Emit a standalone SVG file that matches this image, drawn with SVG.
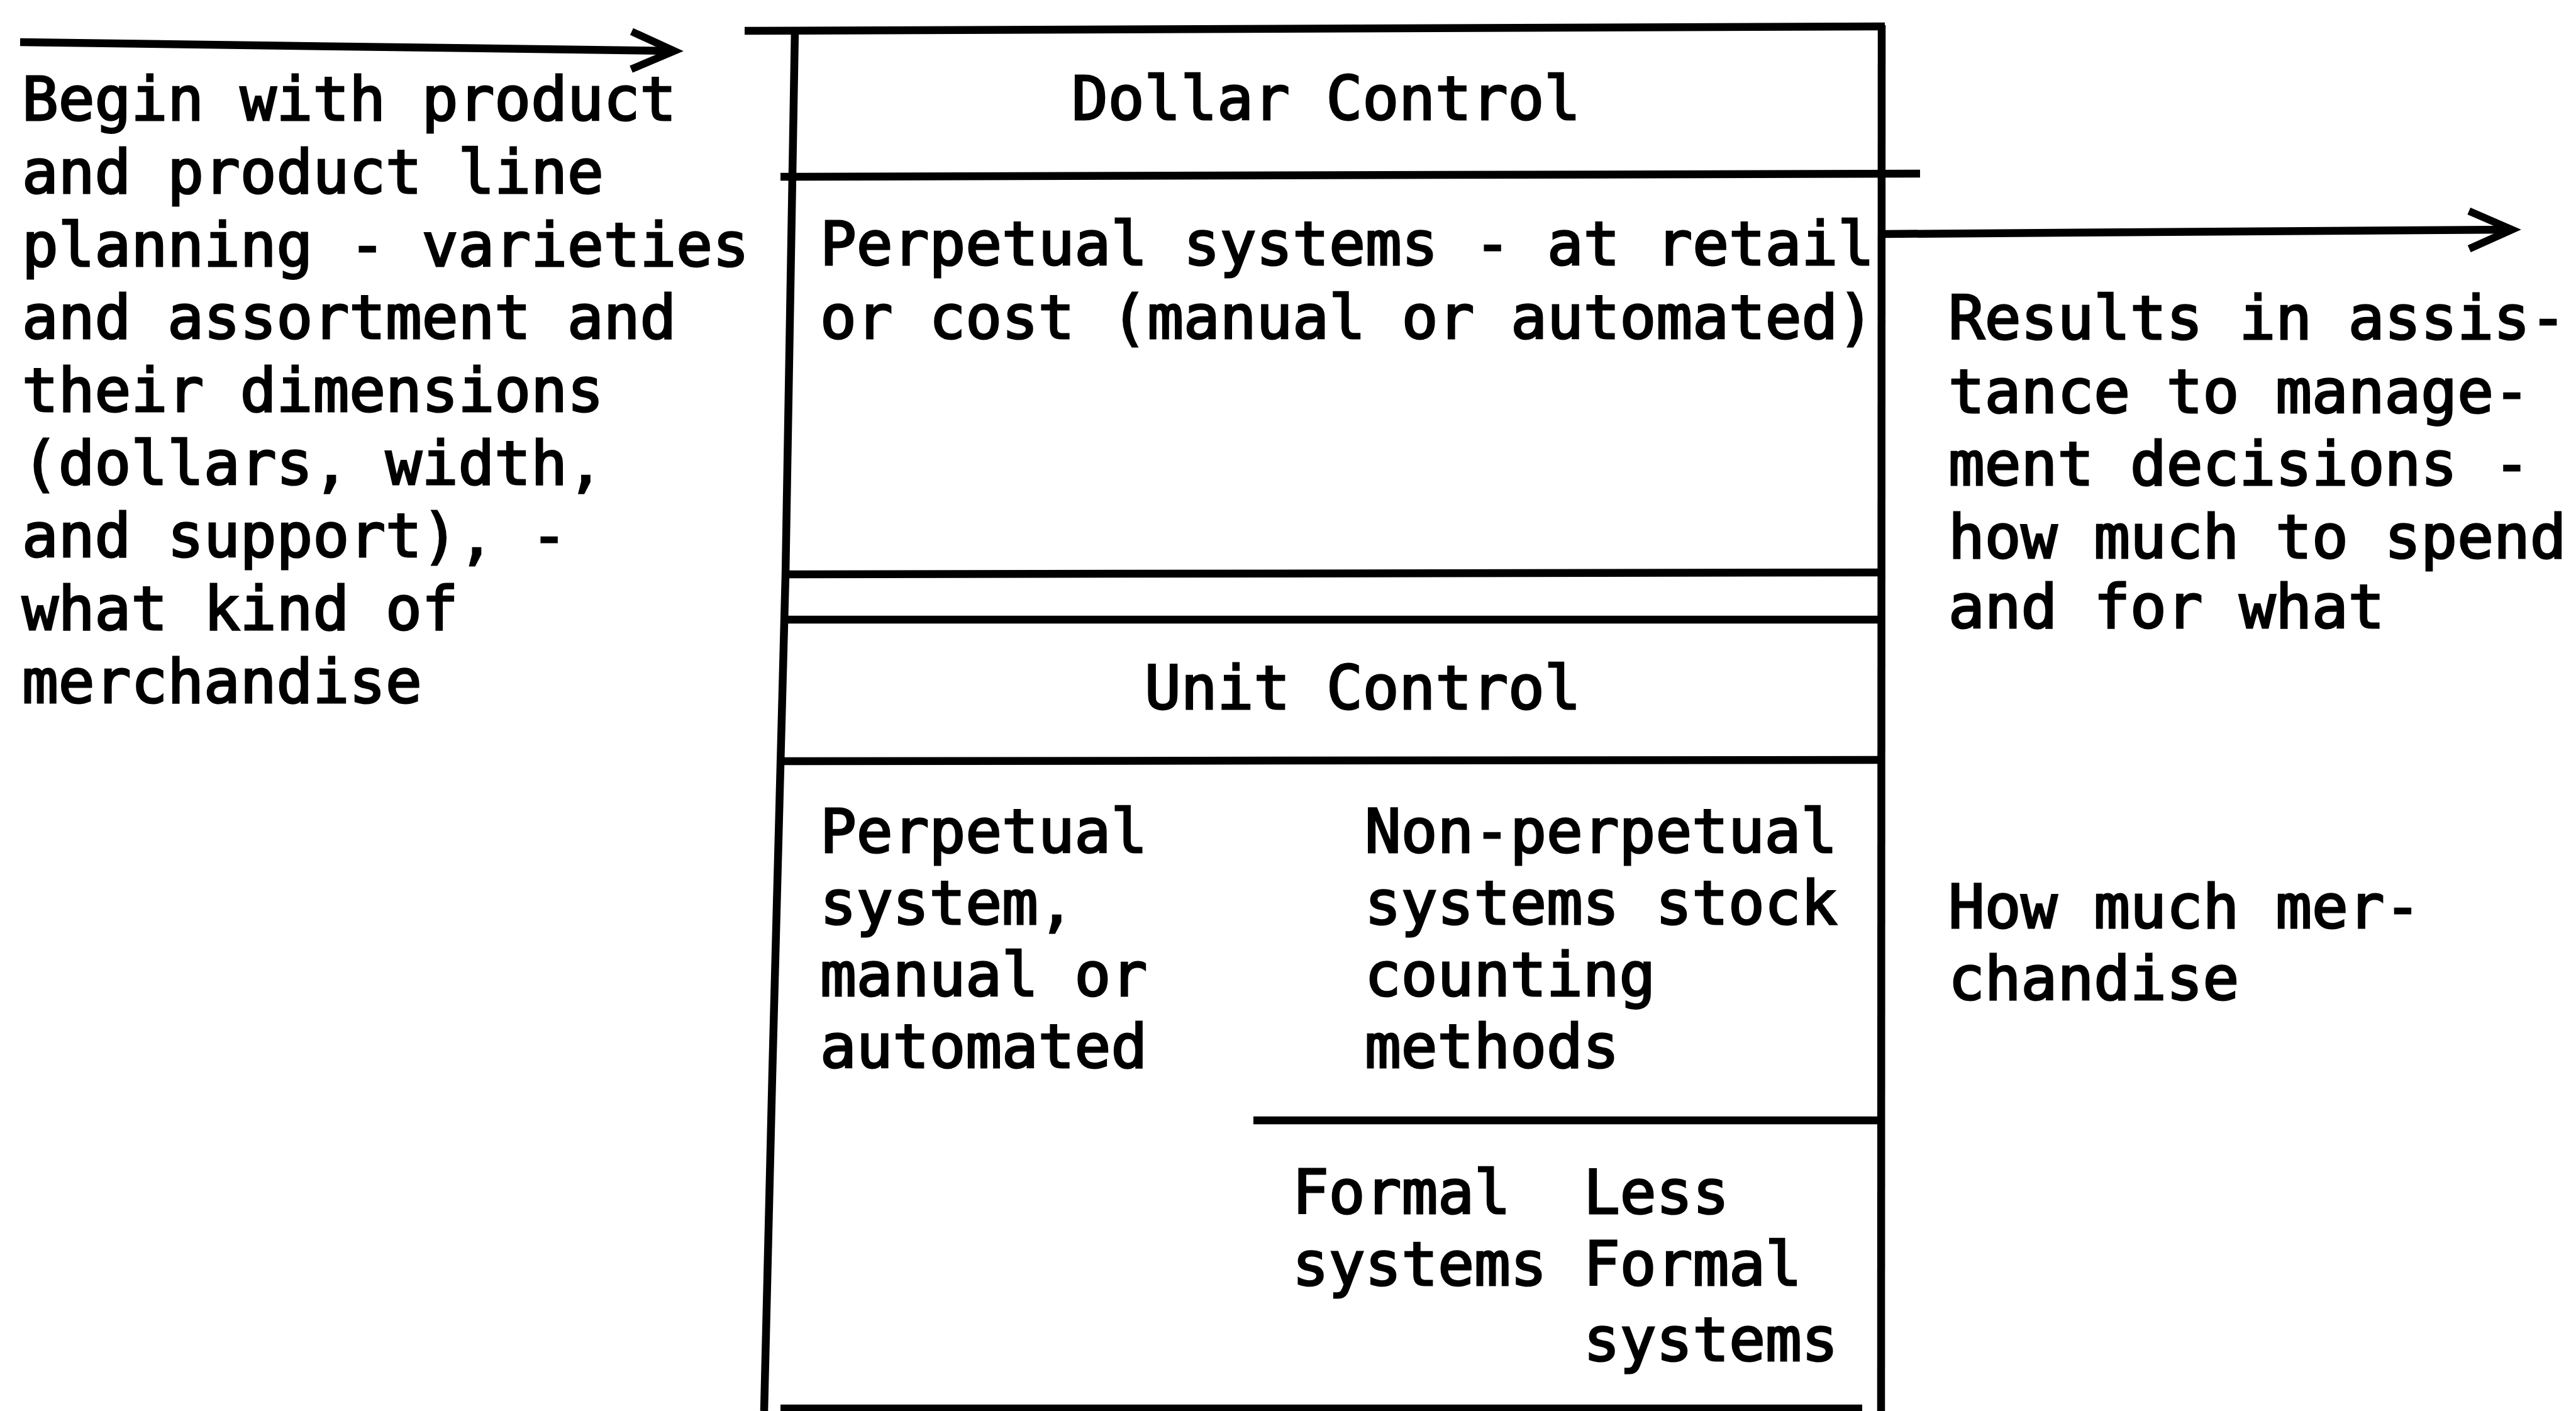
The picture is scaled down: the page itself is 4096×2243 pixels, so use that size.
<svg xmlns="http://www.w3.org/2000/svg" width="4096" height="2243" viewBox="0 0 4096 2243">
<defs>
<style>
.t{font-family:"DejaVu Sans Mono","Liberation Mono",monospace;font-size:96px;fill:#000;stroke:#000;stroke-width:3px}
.ln{stroke:#000;stroke-width:12.5;fill:none;stroke-linecap:butt}
</style>
<marker id="arr" markerUnits="userSpaceOnUse" viewBox="-90 -45 110 90" refX="0" refY="0" markerWidth="110" markerHeight="90" orient="auto" overflow="visible">
<path d="M-68 -30 L0 0 L-68 30" fill="none" stroke="#000" stroke-width="12" stroke-linejoin="miter"/>
</marker>
</defs>
<rect width="4096" height="2243" fill="#fff"/>
<g id="connectors">
<path class="ln" d="M32 67 L1072 81" marker-end="url(#arr)"/>
<path class="ln" d="M2995 372 L3994 365" marker-end="url(#arr)"/>
</g>
<g id="frame">
<path class="ln" d="M1184 49 L2997 42"/>
<path class="ln" d="M1264 46 L1249 914 L1228 1708 L1215 2243"/>
<path class="ln" d="M2992 40 L2991 2243"/>
<path class="ln" d="M1241 281 L3053 276"/>
<path class="ln" d="M1249 913 L2992 910"/>
<path class="ln" d="M1246 985 L2992 985"/>
<path class="ln" d="M1240 1210 L2992 1208"/>
<path class="ln" d="M1993 1781 L2992 1781"/>
<path class="ln" d="M1241 2239 L2961 2239"/>
</g>
<g id="left-note">
<text class="t" x="35" y="191">Begin with product</text>
<text class="t" x="35" y="307">and product line</text>
<text class="t" x="35" y="423">planning - varieties</text>
<text class="t" x="35" y="538">and assortment and</text>
<text class="t" x="35" y="654">their dimensions</text>
<text class="t" x="35" y="770">(dollars, width,</text>
<text class="t" x="35" y="885">and support), -</text>
<text class="t" x="35" y="1001">what kind of</text>
<text class="t" x="35" y="1117">merchandise</text>
</g>
<g id="dollar-control">
<text class="t" x="1704" y="190">Dollar Control</text>
</g>
<g id="dollar-perpetual">
<text class="t" x="1304" y="421">Perpetual systems - at retail</text>
<text class="t" x="1304" y="538">or cost (manual or automated)</text>
</g>
<g id="unit-control">
<text class="t" x="1820" y="1127">Unit Control</text>
</g>
<g id="unit-perpetual">
<text class="t" x="1304" y="1355">Perpetual</text>
<text class="t" x="1304" y="1469">system,</text>
<text class="t" x="1304" y="1583">manual or</text>
<text class="t" x="1304" y="1697">automated</text>
</g>
<g id="unit-non-perpetual">
<text class="t" x="2170" y="1355">Non-perpetual</text>
<text class="t" x="2170" y="1469">systems stock</text>
<text class="t" x="2170" y="1583">counting</text>
<text class="t" x="2170" y="1697">methods</text>
</g>
<g id="formal-systems">
<text class="t" x="2055" y="1929">Formal</text>
<text class="t" x="2055" y="2043">systems</text>
</g>
<g id="less-formal-systems">
<text class="t" x="2518" y="1929">Less</text>
<text class="t" x="2518" y="2043">Formal</text>
<text class="t" x="2518" y="2163">systems</text>
</g>
<g id="right-note-results">
<text class="t" x="3098" y="539">Results in assis-</text>
<text class="t" x="3098" y="656">tance to manage-</text>
<text class="t" x="3098" y="771">ment decisions -</text>
<text class="t" x="3098" y="887">how much to spend</text>
<text class="t" x="3098" y="998">and for what</text>
</g>
<g id="right-note-merchandise">
<text class="t" x="3098" y="1475">How much mer-</text>
<text class="t" x="3098" y="1589">chandise</text>
</g>
</svg>
